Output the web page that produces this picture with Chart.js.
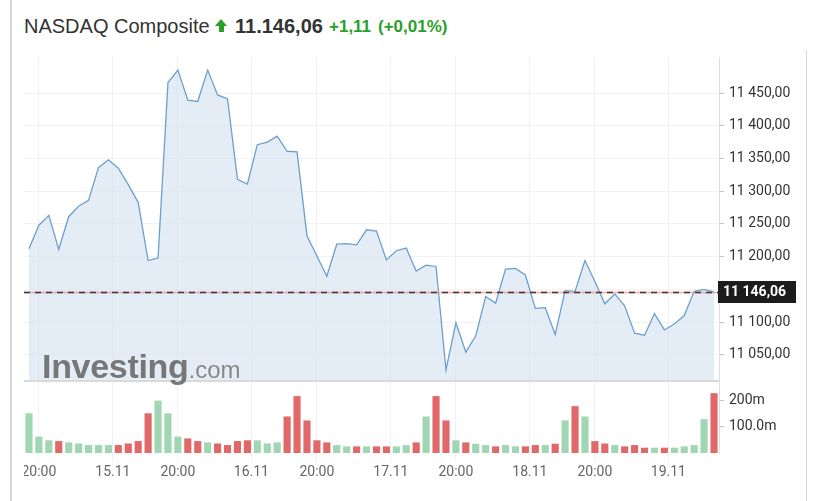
<!DOCTYPE html>
<html>
<head>
<meta charset="utf-8">
<script src="https://cdn.jsdelivr.net/npm/chart.js@4/dist/chart.umd.min.js"></script>
<style>
  body { margin:0; background:#fff; width:814px; height:501px; position:relative; overflow:hidden; font-family:"Liberation Sans", Arial, sans-serif; }
  #leftLine { position:absolute; left:10px; top:0; width:2px; height:501px; background:#d6d6d6; }
  #rightLine { position:absolute; left:806px; top:50px; width:1px; height:451px; background:#d6d6d6; }
  .t { position:absolute; white-space:nowrap; line-height:20px; }
  #name { left:24px; top:16px; font-size:20px; color:#333; }
  #arrow { position:absolute; left:215px; top:19px; width:12px; height:14px; }
  #arrow .head { width:0; height:0; border-left:6px solid transparent; border-right:6px solid transparent; border-bottom:7px solid #2a9f2a; }
  #arrow .stem { width:5px; height:6px; margin-left:3.5px; background:#2a9f2a; }
  #last { left:235px; top:16px; font-size:20px; font-weight:bold; color:#333; }
  #chg { left:329px; top:17px; font-size:17px; font-weight:bold; color:#2a9f2a; }
  #pct { left:378px; top:17px; font-size:17px; font-weight:bold; color:#2a9f2a; }
  #wrap { position:absolute; left:24px; top:50px; }
  #wm { position:absolute; left:42px; top:349px; line-height:34px; white-space:nowrap; }
  #wm .a { font-size:34px; font-weight:bold; color:#777; letter-spacing:-0.3px; }
  #wm .b { font-size:24px; color:#888; }
</style>
</head>
<body>
<div id="leftLine"></div>
<div id="rightLine"></div>
<div class="t" id="name">NASDAQ Composite</div>
<div id="arrow"><div class="head"></div><div class="stem"></div></div>
<div class="t" id="last">11.146,06</div>
<div class="t" id="chg">+1,11</div>
<div class="t" id="pct">(+0,01%)</div>
<div id="wrap"><canvas id="myChart" width="783" height="451"></canvas></div>
<div id="wm"><span class="a">Investing</span><span class="b">.com</span></div>
<script>
// closing prices, one per bar
var prices = [11212,11248,11263,11211,11261,11277,11286,11336,11348,11335,
  11310,11283,11194,11198,11466,11485,11439,11437,11485,11447,
  11441,11318,11311,11371,11375,11384,11361,11360,11232,11201,
  11170,11219,11220,11218,11241,11239,11195,11209,11213,11178,
  11187,11185,11027,11099,11054,11079,11139,11129,11181,11182,
  11172,11121,11122,11081,11148,11147,11194,11162,11128,11143,
  11125,11083,11080,11113,11088,11097,11110,11147,11150,11146.06];
// volume in millions
var volumes = [150,62,48,45,40,36,30,30,30,30,
  36,45,150,198,150,62,55,45,40,36,
  30,45,48,48,36,40,138,215,123,48,
  40,30,25,25,25,25,25,25,30,40,
  138,215,123,48,40,35,30,25,30,25,
  25,30,30,35,123,177,138,45,36,30,
  25,30,20,20,20,20,25,30,128,226];
var xTickPos = [1,8.45,15,22.4,29,36.45,43,50.45,57,64.4];
var xTickLabels = ['20:00','15.11','20:00','16.11','20:00','17.11','20:00','18.11','20:00','19.11'];
var priceTicks = [11050,11100,11150,11200,11250,11300,11350,11400,11450];
var volTicks = [100,200];
var volTickLabels = ['100.0m','200m'];
var lastPrice = 11146.06;

function fmtPrice(v){
  var s = v.toFixed(2).split('.');
  return s[0].replace(/\B(?=(\d{3})+(?!\d))/g,' ') + ',' + s[1];
}

var linePts = prices.map(function(v,i){ return {x:i, y:v}; });
var volPts = volumes.map(function(v,i){ return {x:i, y:v}; });
var volColors = prices.map(function(v,i){
  if (i > 0 && v < prices[i-1]) return 'rgb(225,104,104)';
  return 'rgb(160,215,178)';
});

var overlay = {
  id:'overlay',
  afterDatasetsDraw: function(chart){
    var c = chart.ctx, a = chart.chartArea, yp = chart.scales.y;
    var y = Math.round(yp.getPixelForValue(lastPrice)) + 0.5;
    c.save();
    c.strokeStyle = '#d9d9d9'; c.lineWidth = 2;
    c.beginPath(); c.moveTo(a.left, yp.bottom); c.lineTo(a.right, yp.bottom); c.stroke();
    c.strokeStyle = 'rgba(235,140,140,0.6)'; c.lineWidth = 2;
    c.beginPath(); c.moveTo(a.left, y); c.lineTo(a.right, y); c.stroke();
    c.strokeStyle = '#3b3b3b'; c.lineWidth = 1.3; c.setLineDash([6,5]);
    c.beginPath(); c.moveTo(a.left, y); c.lineTo(a.right, y); c.stroke();
    c.restore();
  },
  afterDraw: function(chart){
    var c = chart.ctx, a = chart.chartArea, yp = chart.scales.y;
    var y = yp.getPixelForValue(lastPrice);
    c.save();
    c.fillStyle = '#1c1c1c';
    c.fillRect(a.right - 1, Math.round(y) - 11, 78, 22);
    c.fillStyle = '#fff';
    c.font = 'bold 14px Roboto';
    c.textBaseline = 'middle';
    c.fillText(fmtPrice(lastPrice), a.right + 4, y + 1);
    c.restore();
  }
};

function noPad(s){ s.paddingTop = 0; s.paddingBottom = 0; s.paddingLeft = 0; s.paddingRight = 0; }

var ctx = document.getElementById('myChart').getContext('2d');
var chart = new Chart(ctx, {
  type: 'bar',
  data: {
    datasets: [{
      type: 'line',
      data: linePts,
      yAxisID: 'y',
      borderColor: '#6c9fcc',
      borderWidth: 1.3,
      backgroundColor: 'rgba(214,228,240,0.65)',
      fill: 'start',
      pointRadius: 0,
      tension: 0
    }, {
      type: 'bar',
      data: volPts,
      yAxisID: 'yv',
      backgroundColor: volColors,
      categoryPercentage: 1,
      barPercentage: 0.72
    }]
  },
  options: {
    responsive: false,
    animation: false,
    events: [],
    layout: { padding: { top: 7, left: 0, right: 0, bottom: 0 } },
    plugins: { legend: { display: false }, tooltip: { enabled: false } },
    scales: {
      x: {
        type: 'linear',
        min: -0.5, max: 69.5,
        offset: false,
        grid: { offset: false, color: '#eef1f4', tickColor: '#eef1f4', tickLength: 8 },
        border: { display: false },
        ticks: {
          autoSkip: false, maxRotation: 0, padding: 3,
          color: '#666', font: { family: 'Roboto', size: 14 },
          callback: function(v, i){ return xTickLabels[i]; }
        },
        afterBuildTicks: function(s){ s.ticks = xTickPos.map(function(v){ return {value:v}; }); },
        afterFit: function(s){ noPad(s); s.height = 48; }
      },
      y: {
        position: 'right',
        stack: 'panes',
        stackWeight: 4.5,
        min: 11010, max: 11505,
        grid: { color: '#f2f2f2', tickColor: '#c4c4c4', tickLength: 5 },
        border: { color: '#dedede' },
        ticks: {
          padding: 5, color: '#333', font: { family: 'Roboto', size: 14 },
          callback: function(v){ return fmtPrice(v); }
        },
        afterBuildTicks: function(s){ s.ticks = priceTicks.map(function(v){ return {value:v}; }); },
        afterFit: function(s){ noPad(s); s.width = 88; }
      },
      yv: {
        position: 'right',
        stack: 'panes',
        stackWeight: 1,
        min: 0, max: 272,
        grid: { drawOnChartArea: false, tickColor: '#c4c4c4', tickLength: 5 },
        border: { color: '#dedede' },
        ticks: {
          padding: 5, color: '#333', font: { family: 'Roboto', size: 14 },
          callback: function(v, i){ return volTickLabels[i]; }
        },
        afterBuildTicks: function(s){ s.ticks = volTicks.map(function(v){ return {value:v}; }); },
        afterFit: function(s){ noPad(s); s.width = 88; }
      }
    }
  },
  plugins: [overlay]
});
</script>
</body>
</html>
